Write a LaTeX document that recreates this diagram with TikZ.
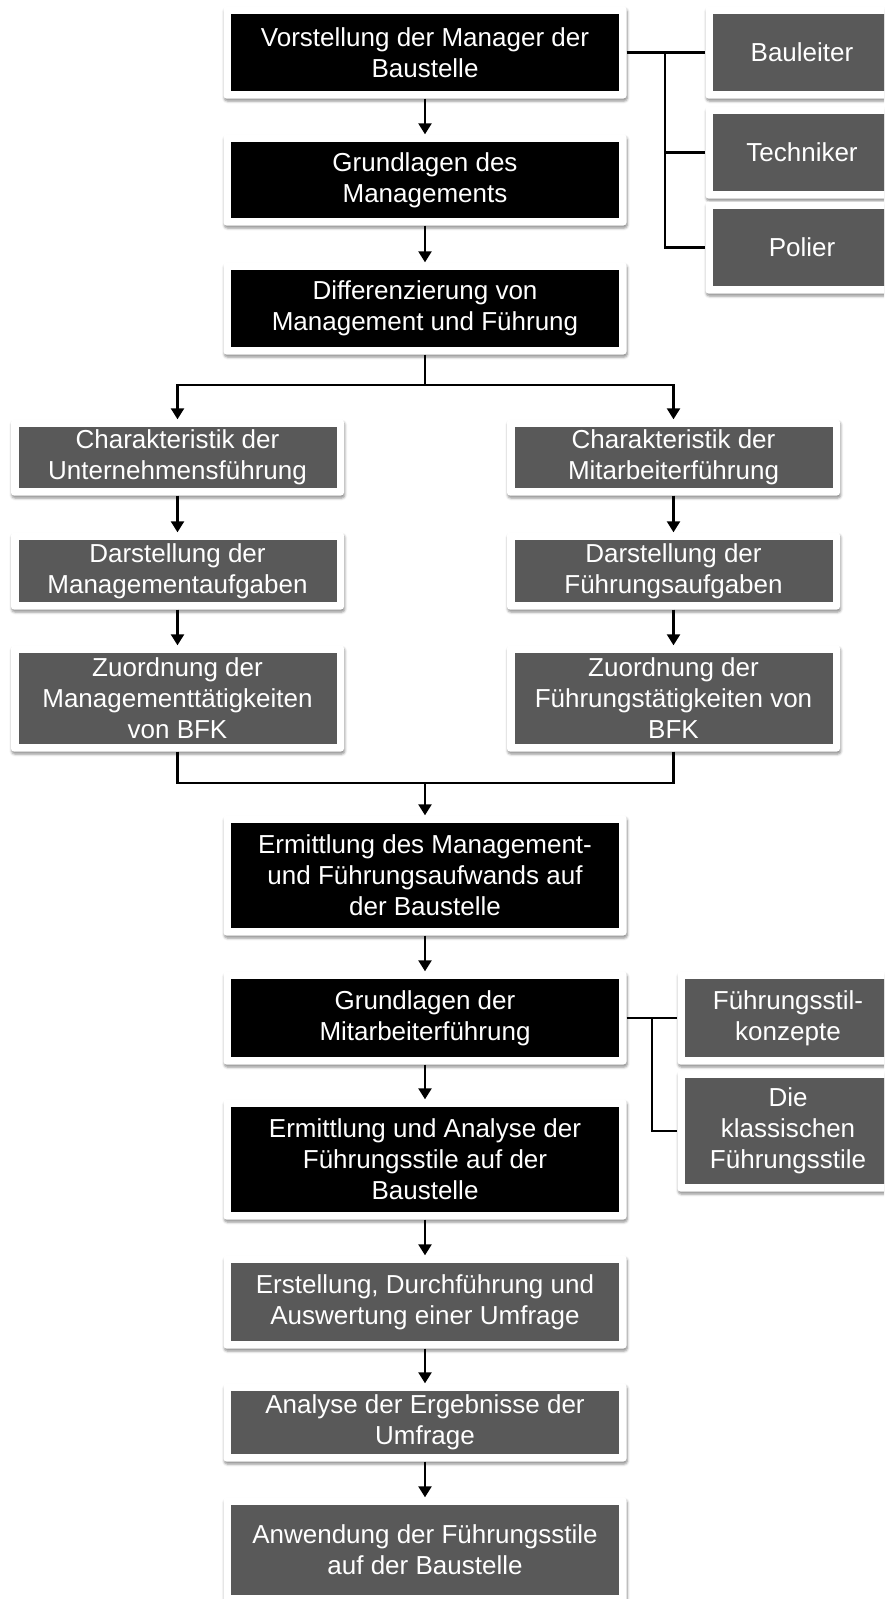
\documentclass[tikz,border=0pt]{standalone}
\usepackage{fontspec}
\setmainfont{Liberation Sans}
\usetikzlibrary{arrows.meta,shadows.blur}

\definecolor{boxgray}{HTML}{595959}

\tikzset{
  frame/.style={fill=white, draw=none, rounded corners=3pt, inner sep=0pt,
    blur shadow={shadow xshift=0.8pt, shadow yshift=-2.5pt,
      shadow blur radius=2.5pt, shadow opacity=45}},
  dark/.style={fill=black, text=white, inner sep=0pt, align=center,
    font=\fontsize{26}{31}\selectfont},
  grey/.style={dark, fill=boxgray},
  conn/.style={line width=2.4pt, black},
  arr/.style={conn, -{Triangle[width=13pt,length=11pt]}}
}

% \flowbox{name}{x}{y}{inner width}{inner height}{fill style}{text}
\newcommand\flowbox[7]{%
  \node[frame, minimum width=#4pt+15pt, minimum height=#5pt+15pt] (#1) at (#2,#3) {};
  \node[#6, minimum width=#4pt, minimum height=#5pt] (#1-in) at (#2,#3) {#7};
}

\begin{document}
\begin{tikzpicture}[x=1pt, y=-1pt]
\useasboundingbox (0,0) rectangle (884,1599);
\clip (0,0) rectangle (884,1599);

% main column
\flowbox{m1}{425}{52.5}{388}{77}{dark}{Vorstellung der Manager der\\Baustelle}
\flowbox{m2}{425}{180}{388}{76}{dark}{Grundlagen des\\Managements}
\flowbox{m3}{425}{308.5}{388}{77}{dark}{Differenzierung von\\Management und Führung}
\flowbox{m4}{425}{875.5}{388}{105}{dark}{Ermittlung des Management-\\und Führungsaufwands auf\\der Baustelle}
\flowbox{m5}{425}{1018}{388}{78}{dark}{Grundlagen der\\Mitarbeiterführung}
\flowbox{m6}{425}{1159.5}{388}{105}{dark}{Ermittlung und Analyse der\\Führungsstile auf der\\Baustelle}
\flowbox{m7}{425}{1302}{388}{78}{grey}{Erstellung, Durchführung und\\Auswertung einer Umfrage}
\flowbox{m8}{425}{1422.5}{388}{63}{grey}{Analyse der Ergebnisse der\\Umfrage}
\flowbox{m9}{425}{1550}{388}{90}{grey}{Anwendung der Führungsstile\\auf der Baustelle}

% left branch
\flowbox{l1}{177.5}{457.5}{318}{61}{grey}{Charakteristik der\\Unternehmensführung}
\flowbox{l2}{177.5}{571}{318}{62}{grey}{Darstellung der\\Managementaufgaben}
\flowbox{l3}{177.5}{698.5}{318}{91}{grey}{Zuordnung der\\Managementtätigkeiten\\von BFK}

% right branch
\flowbox{r1}{673.5}{457.5}{318}{61}{grey}{Charakteristik der\\Mitarbeiterführung}
\flowbox{r2}{673.5}{571}{318}{62}{grey}{Darstellung der\\Führungsaufgaben}
\flowbox{r3}{673.5}{698.5}{318}{91}{grey}{Zuordnung der\\Führungstätigkeiten von\\BFK}

% side boxes, top
\flowbox{s1}{802}{52.5}{178}{77}{grey}{Bauleiter}
\flowbox{s2}{802}{152.5}{178}{77}{grey}{Techniker}
\flowbox{s3}{802}{247.5}{178}{77}{grey}{Polier}

% side boxes, lower
\flowbox{k1}{788}{1018}{206}{78}{grey}{Führungsstil-\\konzepte}
\flowbox{k2}{788}{1131}{206}{106}{grey}{Die\\klassischen\\Führungsstile}

% connectors
\draw[arr] (m1.south) -- (m2.north);
\draw[arr] (m2.south) -- (m3.north);

\coordinate (split) at (425,385);
\draw[conn] (m3.south) -- (split);
\draw[arr] (split) -| (l1.north);
\draw[arr] (split) -| (r1.north);

\draw[arr] (l1.south) -- (l2.north);
\draw[arr] (l2.south) -- (l3.north);
\draw[arr] (r1.south) -- (r2.north);
\draw[arr] (r2.south) -- (r3.north);

\coordinate (merge) at (425,783);
\draw[conn] (l3.south) |- (merge);
\draw[conn] (r3.south) |- (merge);
\draw[arr] (merge) -- (m4.north);

\draw[arr] (m4.south) -- (m5.north);
\draw[arr] (m5.south) -- (m6.north);
\draw[arr] (m6.south) -- (m7.north);
\draw[arr] (m7.south) -- (m8.north);
\draw[arr] (m8.south) -- (m9.north);

\coordinate (trunkA) at (665,0);
\draw[conn] (m1.east) -- (s1.west);
\draw[conn] (m1.east -| trunkA) |- (s2.west);
\draw[conn] (m1.east -| trunkA) |- (s3.west);

\coordinate (trunkB) at (652,0);
\draw[conn] (m5.east) -- (k1.west);
\draw[conn] (m5.east -| trunkB) |- (k2.west);
\end{tikzpicture}
\end{document}
